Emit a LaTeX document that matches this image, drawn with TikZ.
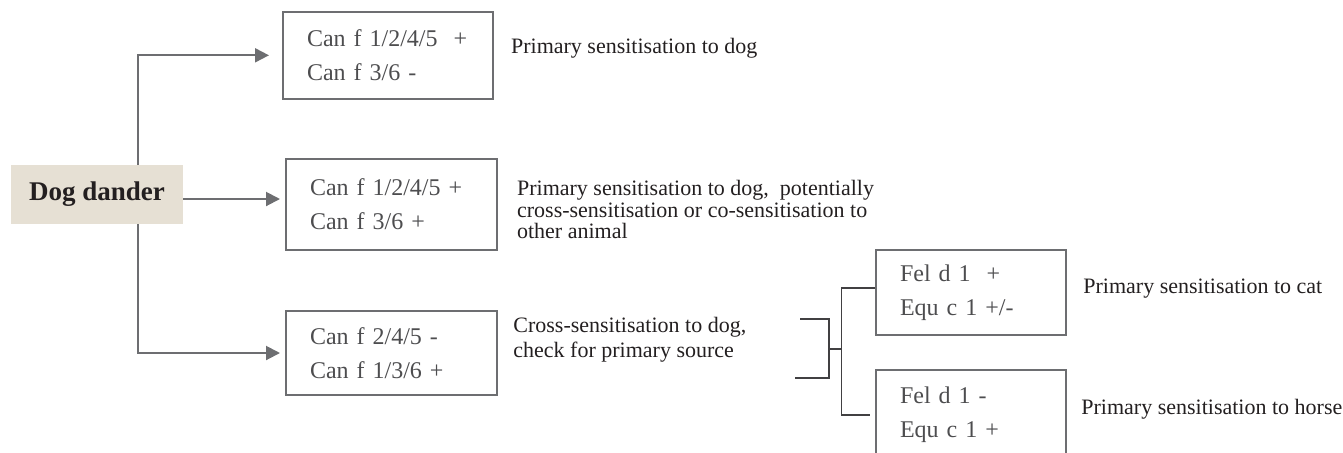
\documentclass[tikz,border=0pt]{standalone}
\usepackage{fontspec}
\setmainfont{Liberation Serif}
\usetikzlibrary{arrows.meta,positioning}
\definecolor{dander}{HTML}{E6E0D4}
\definecolor{ink}{HTML}{231F20}
\definecolor{boxtext}{HTML}{4D4D4F}
\definecolor{linegray}{HTML}{6D6E71}
\definecolor{bracketgray}{HTML}{414042}

\begin{document}
\begin{tikzpicture}[
    x=0.5pt, y=-0.5pt,
    every node/.style={font=\fontsize{12}{17}\selectfont},
    source/.style={fill=dander, text=ink, font=\fontsize{13.5}{16}\selectfont\bfseries, minimum width=86pt, minimum height=29.5pt, inner sep=0pt},
    allergen/.style={draw=linegray, line width=1pt, align=left, inner xsep=12pt, text width=#1, text=boxtext, font=\fontsize{12}{17}\selectfont},
    note/.style={anchor=north west, inner sep=0pt, align=left, text=ink, font=\fontsize{11}{10.75}\selectfont},
    flow/.style={-{Triangle[length=7pt, width=7pt]}, draw=linegray, line width=1pt},
    link/.style={draw=bracketgray, line width=0.75pt}
]
\useasboundingbox (0,0) rectangle (1343,452);
\clip (0,0) rectangle (1343,452);

\node[source] (dog) at (97,194.5) {Dog dander};
\coordinate (split) at (138,194.5);

\node[allergen=81pt, minimum height=43.3pt] (dogonly) at (388,55.3) {Can f 1/2/4/5\ \ +\\Can f 3/6 -};
\node[allergen=81.5pt, minimum height=45.5pt] (bothpos) at (391.5,204.5) {Can f 1/2/4/5 +\\Can f 3/6 +};
\node[allergen=81.5pt, minimum height=42pt, below=29.5pt of bothpos] (crossonly) {Can f 2/4/5 -\\Can f 1/3/6 +};
\node[allergen=71pt, minimum height=42.5pt] (cat) at (971,292.5) {Fel d 1\ \ +\\Equ c 1 +/-};
\node[allergen=71pt, minimum height=45pt, below=16.5pt of cat] (horse) {Fel d 1 -\\Equ c 1 +};

\node[note] (dognote) at (510.7,38) {Primary sensitisation to dog};
\node[note] (potnote) at (516.7,180) {Primary sensitisation to dog,\ \ potentially\\cross-sensitisation or co-sensitisation to\\other animal};
\node[note] (crossnote) at (513,317) {Cross-sensitisation to dog,\\[1.5pt]check for primary source};
\node[note] (catnote) at (1083,279) {Primary sensitisation to cat};
\node[note] (horsenote) at (1081,399) {Primary sensitisation to horse};

\draw[flow, shorten >=6.5pt] (dog.north -| split) |- (dogonly.west);
\draw[flow, shorten >=2.5pt] ([yshift=-2.25pt]dog.east) -- ([yshift=2.75pt]bothpos.west);
\draw[flow, shorten >=2.5pt] (dog.south -| split) |- (crossonly.west);

% bracket towards cat / horse
\coordinate (crosstop) at (800,319);
\coordinate (crossbot) at (795,378);
\coordinate (join) at (829,349);
\coordinate (fork) at (841.7,349);
\draw[link] (crosstop) -| (join) |- (crossbot);
\draw[link] (join) -- (fork);
\draw[link] ([yshift=2.25pt]cat.west) -| (fork) |- ([xshift=-2.5pt]horse.west);
\end{tikzpicture}
\end{document}
